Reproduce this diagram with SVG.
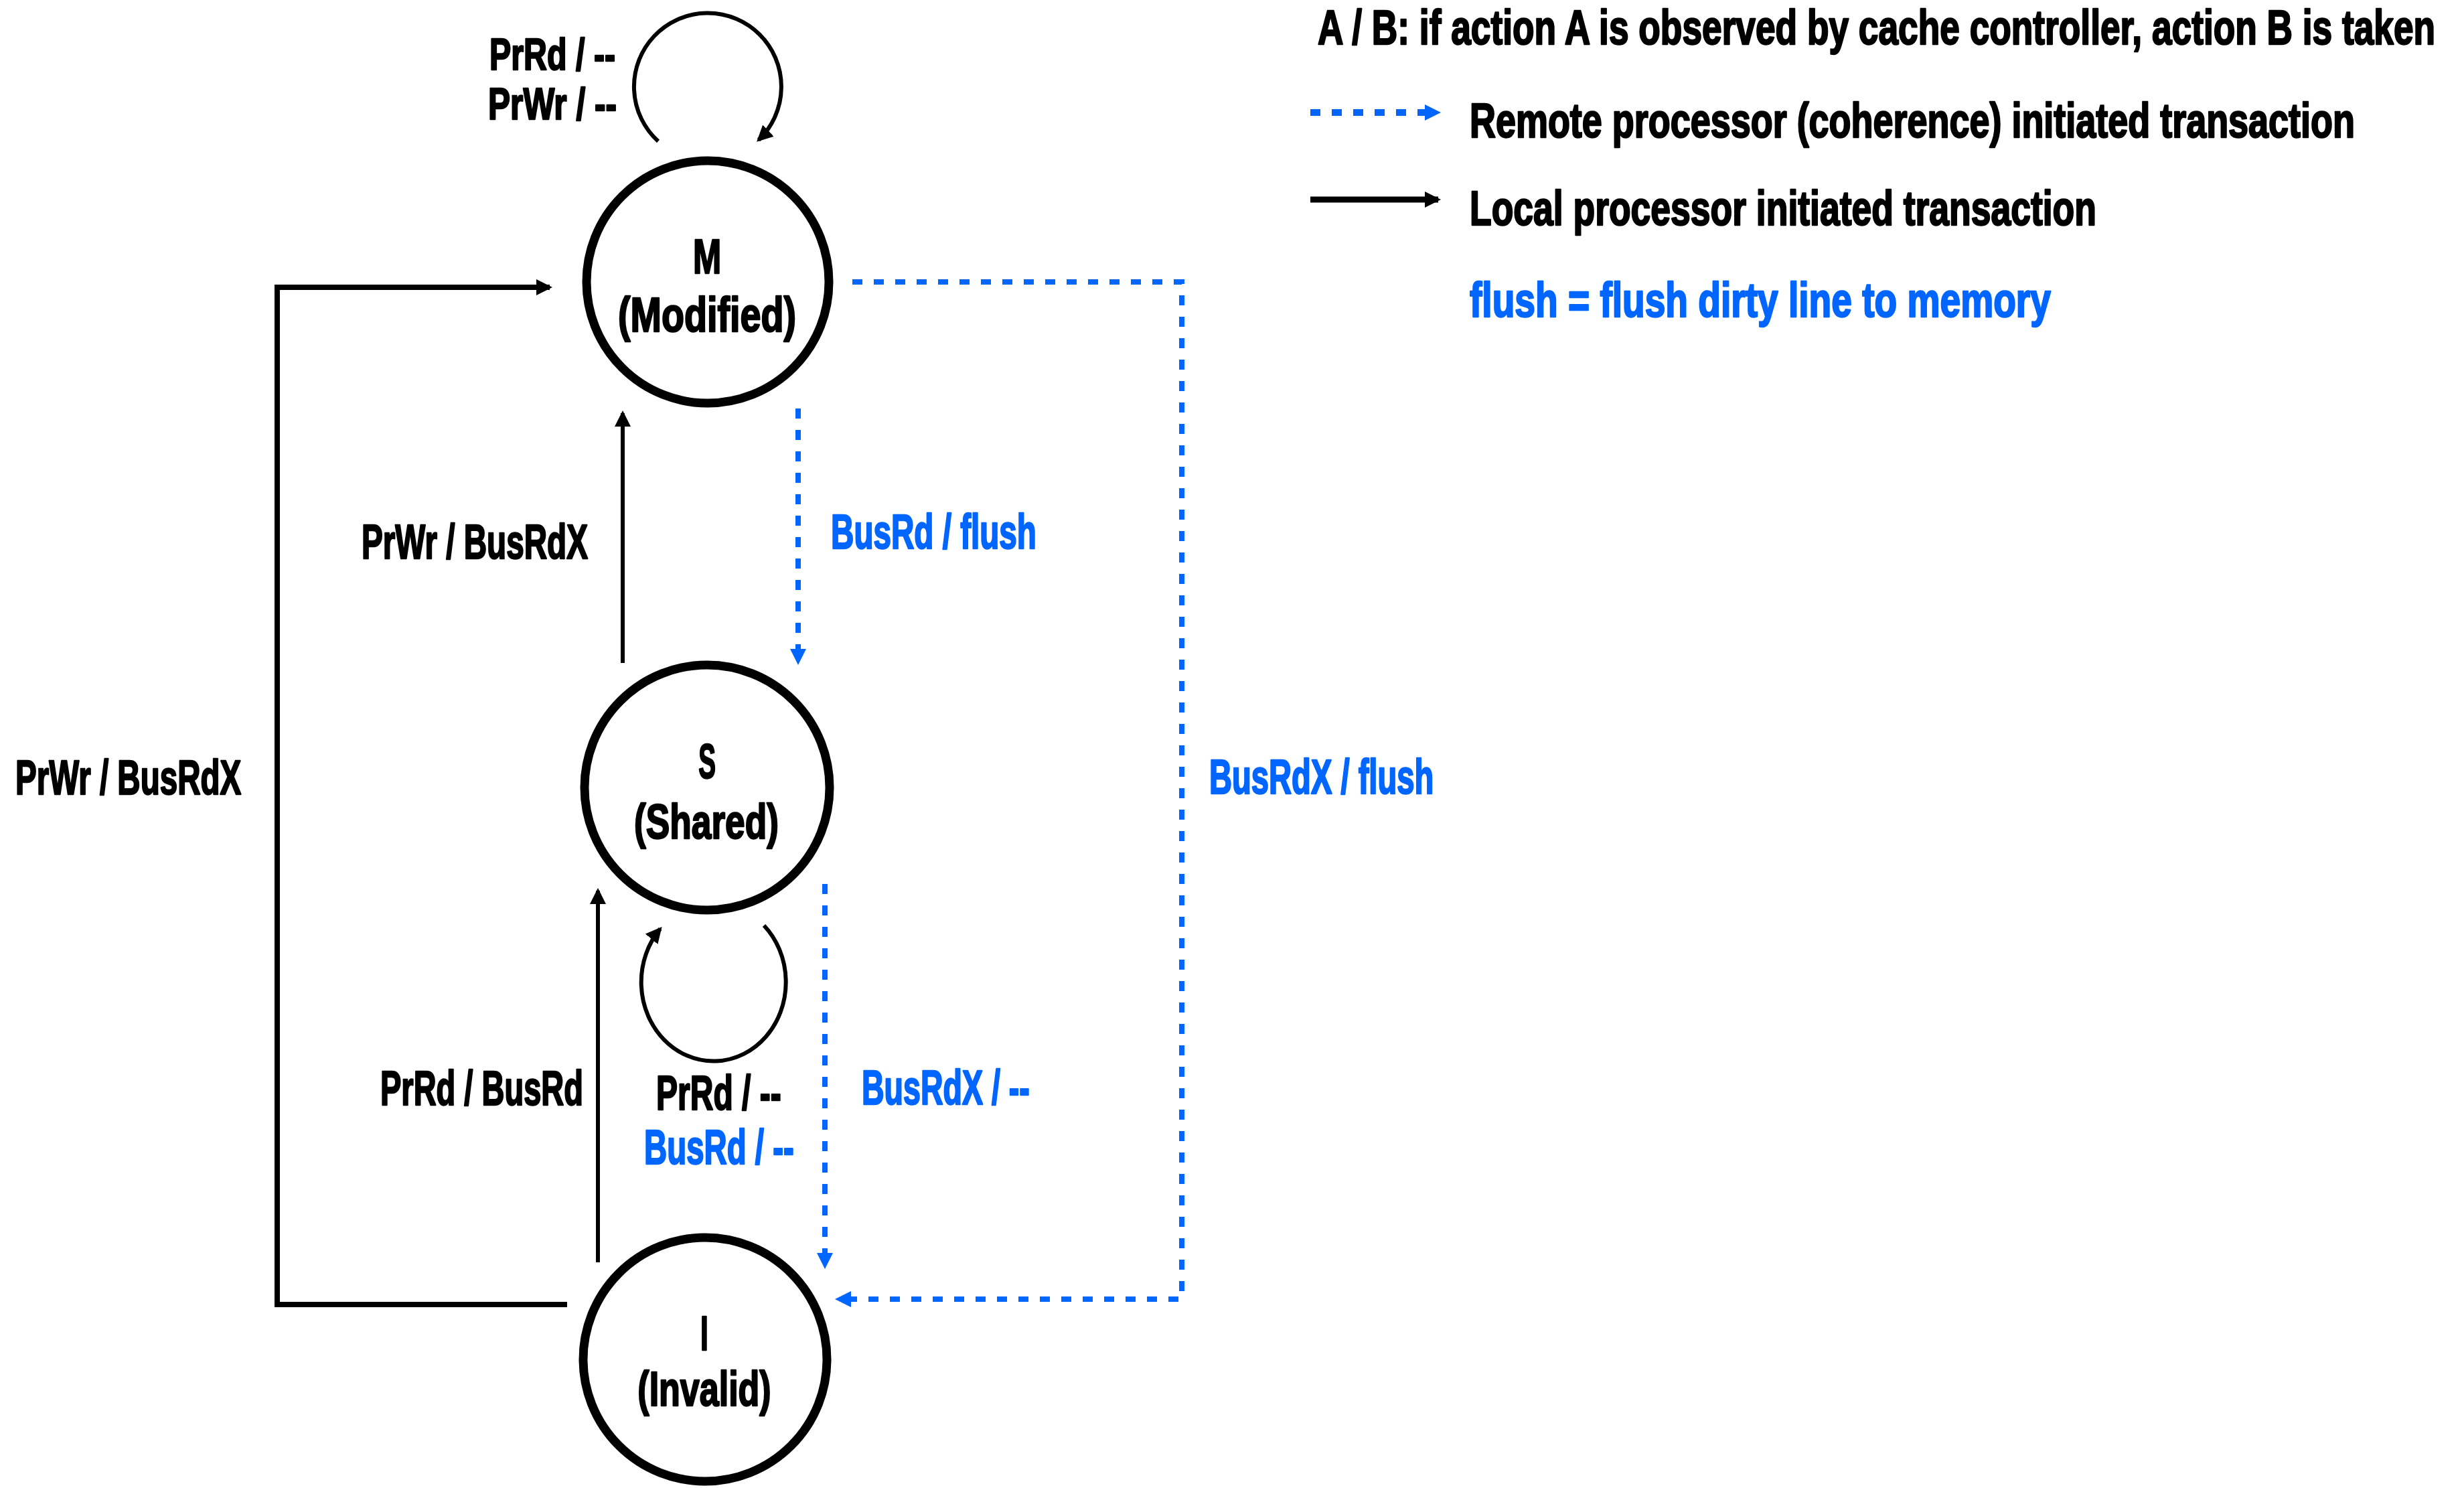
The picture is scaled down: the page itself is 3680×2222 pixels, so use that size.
<svg xmlns="http://www.w3.org/2000/svg" width="3680" height="2222" viewBox="0 0 3680 2222">
<defs>
<style>
text{font-family:"Liberation Sans","DejaVu Sans",Arial,sans-serif;font-weight:bold;font-size:72px;fill:#000;stroke:#000;stroke-width:2.5;stroke-linejoin:round}
.b{fill:#0066ff;stroke:#0066ff}
.mid{text-anchor:middle}
.node{fill:#fff;stroke:#000;stroke-width:13}
.solid{fill:none;stroke:#000;stroke-width:6}
.dash{fill:none;stroke:#0066ff;stroke-width:8;stroke-dasharray:15 17}
</style>
<marker id="ak" viewBox="0 0 24 24" refX="20" refY="12" markerWidth="24" markerHeight="24" markerUnits="userSpaceOnUse" orient="auto"><path d="M0,0 L24,12 L0,24 z" fill="#000"/></marker>
<marker id="ab" viewBox="0 0 24 24" refX="20" refY="12" markerWidth="24" markerHeight="24" markerUnits="userSpaceOnUse" orient="auto"><path d="M0,0 L24,12 L0,24 z" fill="#0066ff"/></marker>
</defs>
<rect width="3680" height="2222" fill="#fff"/>

<g id="legend">
<text transform="translate(1968 66) scale(0.66 1)" textLength="2529" lengthAdjust="spacingAndGlyphs">A / B: if action A is observed by cache controller,  action B is taken</text>
<line x1="1957" y1="168" x2="2148" y2="168" stroke="#0066ff" stroke-width="10" stroke-dasharray="15 17" marker-end="url(#ab)"/>
<text transform="translate(2195 205) scale(0.66 1)" textLength="2003" lengthAdjust="spacingAndGlyphs">Remote processor (coherence) initiated transaction</text>
<line x1="1957" y1="298" x2="2148" y2="298" stroke="#000" stroke-width="9" marker-end="url(#ak)"/>
<text transform="translate(2195 336) scale(0.66 1)" textLength="1418" lengthAdjust="spacingAndGlyphs">Local processor initiated transaction</text>
<text class="b" transform="translate(2195 473) scale(0.66 1)" textLength="1315" lengthAdjust="spacingAndGlyphs">flush = flush dirty line to memory</text>
</g>

<g id="connectors">
<path class="solid" d="M983 211 A110 110 0 1 1 1133 209" marker-end="url(#ak)"/>
<line class="solid" x1="930" y1="990" x2="930" y2="617" marker-end="url(#ak)"/>
<line class="solid" x1="893" y1="1885" x2="893" y2="1330" marker-end="url(#ak)"/>
<polyline class="solid" style="stroke-width:8" points="847,1948 414,1948 414,429 821,429" marker-end="url(#ak)"/>
<path class="solid" d="M1141 1382 A108 118 0 1 1 986 1387" marker-end="url(#ak)"/>
<line class="dash" x1="1192" y1="610" x2="1192" y2="989" marker-end="url(#ab)"/>
<line class="dash" x1="1232" y1="1320" x2="1232" y2="1891" marker-end="url(#ab)"/>
<polyline class="dash" points="1273,421 1765,421 1765,1940 1251,1940" marker-end="url(#ab)"/>

<text transform="translate(731 104) scale(0.66 1)" textLength="285" lengthAdjust="spacingAndGlyphs" style="font-size:67px">PrRd / --</text>
<text transform="translate(729 178) scale(0.66 1)" textLength="291" lengthAdjust="spacingAndGlyphs" style="font-size:67px">PrWr / --</text>
<text transform="translate(540 834) scale(0.66 1)" textLength="512" lengthAdjust="spacingAndGlyphs">PrWr / BusRdX</text>
<text transform="translate(23 1186) scale(0.66 1)" textLength="511" lengthAdjust="spacingAndGlyphs">PrWr / BusRdX</text>
<text transform="translate(568 1650) scale(0.66 1)" textLength="459" lengthAdjust="spacingAndGlyphs">PrRd / BusRd</text>
<text transform="translate(980 1657) scale(0.66 1)" textLength="283" lengthAdjust="spacingAndGlyphs">PrRd / --</text>
<text class="b" transform="translate(962 1738) scale(0.66 1)" textLength="339" lengthAdjust="spacingAndGlyphs">BusRd / --</text>
<text class="b" transform="translate(1241 819) scale(0.66 1)" textLength="465" lengthAdjust="spacingAndGlyphs">BusRd / flush</text>
<text class="b" transform="translate(1806 1185) scale(0.66 1)" textLength="508" lengthAdjust="spacingAndGlyphs">BusRdX / flush</text>
<text class="b" transform="translate(1287 1649) scale(0.66 1)" textLength="380" lengthAdjust="spacingAndGlyphs">BusRdX / --</text>
</g>

<g id="node-M">
<circle class="node" cx="1057" cy="421" r="181"/>
<text class="mid" transform="translate(1056 408) scale(0.66 1)" textLength="64" lengthAdjust="spacingAndGlyphs">M</text>
<text class="mid" transform="translate(1056 495) scale(0.66 1)" textLength="403" lengthAdjust="spacingAndGlyphs">(Modified)</text>
</g>
<g id="node-S">
<circle class="node" cx="1056" cy="1176" r="183"/>
<text class="mid" transform="translate(1056 1162) scale(0.66 1)" textLength="39" lengthAdjust="spacingAndGlyphs">S</text>
<text class="mid" transform="translate(1055 1252) scale(0.66 1)" textLength="327" lengthAdjust="spacingAndGlyphs">(Shared)</text>
</g>
<g id="node-I">
<circle class="node" cx="1053" cy="2030" r="182"/>
<text class="mid" transform="translate(1052 2016) scale(0.66 1)" textLength="18" lengthAdjust="spacingAndGlyphs">I</text>
<text class="mid" transform="translate(1052 2099) scale(0.66 1)" textLength="302" lengthAdjust="spacingAndGlyphs">(Invalid)</text>
</g>
</svg>
